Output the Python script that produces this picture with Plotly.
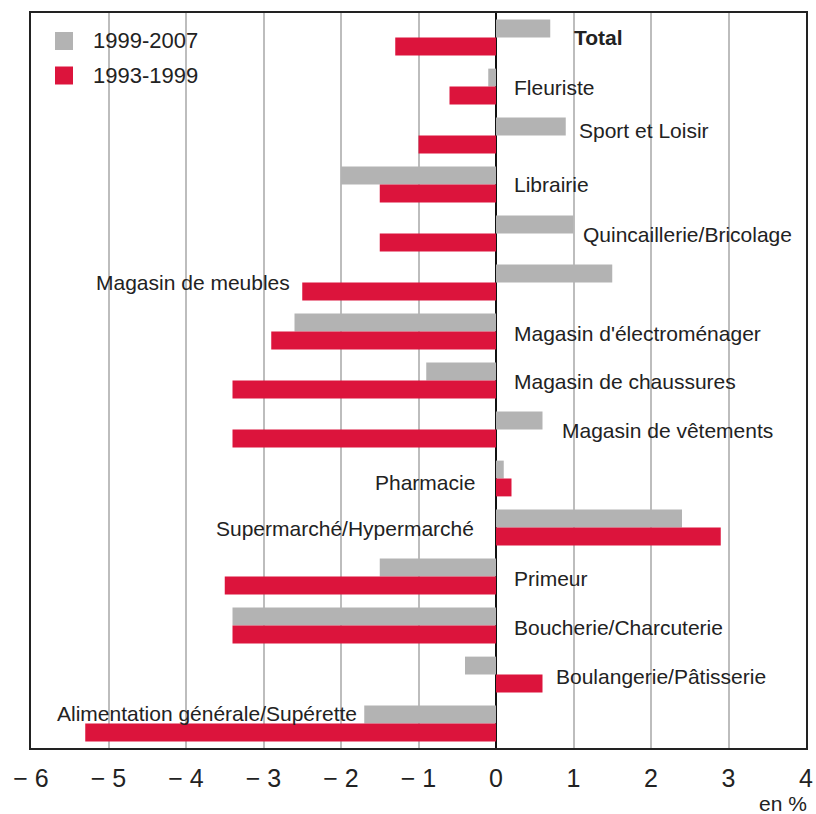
import plotly.graph_objects as go

categories = ["Total", "Fleuriste", "Sport et Loisir", "Librairie", "Quincaillerie/Bricolage",
              "Magasin de meubles", "Magasin d'électroménager", "Magasin de chaussures",
              "Magasin de vêtements", "Pharmacie", "Supermarché/Hypermarché", "Primeur",
              "Boucherie/Charcuterie", "Boulangerie/Pâtisserie", "Alimentation générale/Supérette"]
v_1999_2007 = [0.7, -0.1, 0.9, -2.0, 1.0, 1.5, -2.6, -0.9, 0.6, 0.1, 2.4, -1.5, -3.4, -0.4, -1.7]
v_1993_1999 = [-1.3, -0.6, -1.0, -1.5, -1.5, -2.5, -2.9, -3.4, -3.4, 0.2, 2.9, -3.5, -3.4, 0.6, -5.3]
series_names = ["1999-2007", "1993-1999"]
tick_vals = [-6, -5, -4, -3, -2, -1, 0, 1, 2, 3, 4]
tick_text = ["− 6", "− 5", "− 4", "− 3", "− 2", "− 1", "0", "1", "2", "3", "4"]

# label placement (annotation layout): x in data units, anchor side, vertical shift px
label_x = [0.98, 0.2, 1.05, 0.2, 1.1, -2.63, 0.2, 0.2, 0.83, -0.25, -0.26, 0.2, 0.2, 0.75, -1.77]
label_side = ["l", "l", "l", "l", "l", "r", "l", "l", "l", "r", "r", "l", "l", "l", "r"]
label_dy = [0, -1, 5, 0, -1, 0, -2, -1, -1, -4, -1, -2, -2, -2, 10]

FONT = "Liberation Sans, Arial, sans-serif"
GRAY = "#b3b3b3"
RED = "#dc143c"
TXT = "#222222"

W, H = 816, 814
ML, MR, MT, MB = 31, 10, 13, 66
PW, PH = W - ML - MR, H - MT - MB


def px(xp):
    return (xp - ML) / PW


def py(yp):
    return (H - MB - yp) / PH


fig = go.Figure()
for name, vals, col in zip(series_names, [v_1999_2007, v_1993_1999], [GRAY, RED]):
    fig.add_trace(go.Bar(y=categories, x=vals, orientation="h", name=name, showlegend=False,
                         marker=dict(color=col, line=dict(width=0))))

annotations = []
for cat, lx, side, dy in zip(categories, label_x, label_side, label_dy):
    txt = f"<b>{cat}</b>" if cat == "Total" else cat
    annotations.append(dict(x=lx, y=cat, xref="x", yref="y", text=txt, showarrow=False,
                            xanchor="left" if side == "l" else "right", yanchor="middle",
                            yshift=dy, font=dict(family=FONT, size=21, color=TXT)))
annotations.append(dict(x=1, y=0, xref="paper", yref="paper", text="en %", showarrow=False,
                        xanchor="right", yanchor="middle", yshift=-55, xshift=3,
                        font=dict(family=FONT, size=21, color=TXT)))

# manual legend
shapes = [dict(type="rect", xref="paper", yref="paper", x0=px(40), x1=px(240), y0=py(98), y1=py(18),
               fillcolor="white", line=dict(width=0), layer="below")]
for i, (name, col) in enumerate(zip(series_names, [GRAY, RED])):
    yc = 41 + 34.5 * i
    shapes.append(dict(type="rect", xref="paper", yref="paper", x0=px(55), x1=px(73),
                       y0=py(yc + 9), y1=py(yc - 9), fillcolor=col, line=dict(width=0)))
    annotations.append(dict(x=px(91), y=py(yc), xref="paper", yref="paper", text=name,
                            showarrow=False, xanchor="left", yanchor="middle",
                            font=dict(family=FONT, size=22, color=TXT)))

fig.update_layout(
    width=W, height=H,
    margin=dict(l=ML, r=MR, t=MT, b=MB),
    paper_bgcolor="white", plot_bgcolor="white",
    barmode="group", bargap=0.27, bargroupgap=0,
    font=dict(family=FONT, color=TXT),
    annotations=annotations, shapes=shapes,
)
fig.update_xaxes(range=[-6, 4], tickvals=tick_vals, ticktext=tick_text, showgrid=True,
                 gridcolor="#bdbdbd", gridwidth=1.5, zeroline=True, zerolinecolor="#111111",
                 zerolinewidth=2, showline=True, mirror=True, linecolor="#222222", linewidth=2,
                 ticks="", ticklabelstandoff=7, automargin=False,
                 tickfont=dict(family=FONT, size=25, color=TXT))
fig.update_yaxes(autorange="reversed", showticklabels=False, showgrid=False, zeroline=False,
                 showline=True, mirror=True, linecolor="#222222", linewidth=2, ticks="",
                 automargin=False)

fig.write_html("out.html", config={"displayModeBar": False},
               post_script="document.body.style.margin='0';document.body.style.overflow='hidden';")
